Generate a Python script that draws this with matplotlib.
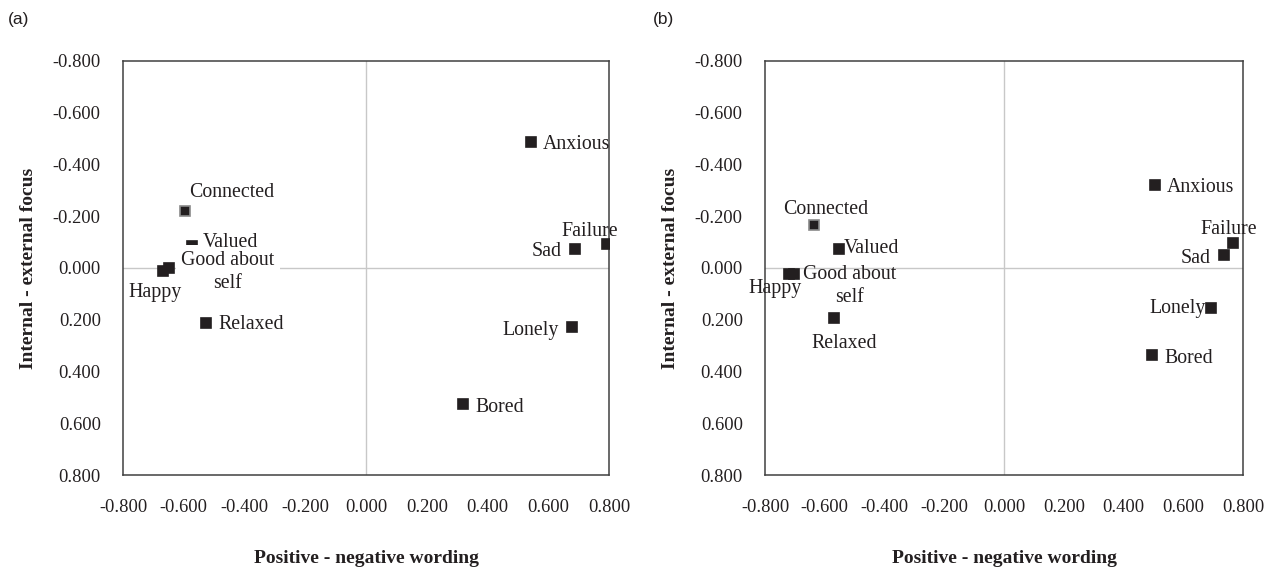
import numpy as np
import matplotlib
matplotlib.use("Agg")
import matplotlib.pyplot as plt

# emotion words, coordinates
words = ["Connected", "Valued", "Good about\nself", "Happy", "Relaxed",
         "Anxious", "Failure", "Sad", "Lonely", "Bored"]

x_a = [-0.596, -0.574, -0.649, -0.667, -0.527, 0.543, 0.793, 0.688, 0.678, 0.318]
y_a = [-0.222, -0.085, 0.000, 0.010, 0.212, -0.488, -0.093, -0.074, 0.229, 0.527]

x_b = [-0.636, -0.552, -0.703, -0.720, -0.569, 0.505, 0.766, 0.736, 0.693, 0.495]
y_b = [-0.166, -0.074, 0.023, 0.023, 0.194, -0.322, -0.098, -0.050, 0.154, 0.337]

ticks = [-0.8, -0.6, -0.4, -0.2, 0.0, 0.2, 0.4, 0.6, 0.8]

# label placement (pixel offsets from the marker, alignment)
offs_a = {
    "Connected": (4, 18, "left"),
    "Valued": (11, 4, "left"),
    "Good about\nself": (59, -4, "center"),
    "Happy": (-8, -22, "center"),
    "Relaxed": (12, -2, "left"),
    "Anxious": (12, -3, "left"),
    "Failure": (-17, 12, "center"),
    "Sad": (-13, -3, "right"),
    "Lonely": (-13, -3, "right"),
    "Bored": (13, -3, "left"),
}
offs_b = {
    "Connected": (12, 16, "center"),
    "Valued": (5, 0, "left"),
    "Good about\nself": (56, -12, "center"),
    "Happy": (-14, -15, "center"),
    "Relaxed": (10, -25, "center"),
    "Anxious": (12, -3, "left"),
    "Failure": (-4, 13, "center"),
    "Sad": (-13, -3, "right"),
    "Lonely": (-5, -1, "right"),
    "Bored": (12, -3, "left"),
}

SERIF = "Liberation Serif"
DARK = "#231f20"

fig = plt.figure(figsize=(12.67, 5.69), dpi=100)
ax_a = fig.add_axes([0.0971, 0.1652, 0.3836, 0.7276])
ax_b = fig.add_axes([0.6038, 0.1652, 0.3773, 0.7276])


def draw_panel(ax, xs, ys, offs, cover_valued):
    ax.axhline(0, color="#c8c8c8", lw=1, zorder=1)
    ax.axvline(0, color="#c8c8c8", lw=1, zorder=1)
    for name, x, y in zip(words, xs, ys):
        edge = "#8a8a8a" if name == "Connected" else DARK
        ax.plot(x, y, marker="s", ms=7.2, color=DARK, mec=edge, mew=1.2,
                ls="none", zorder=3)
        dx, dy, ha = offs[name]
        kw = {}
        z = 5
        if cover_valued and name.startswith("Good"):
            # label box hides the lower part of the Valued marker, as in the source
            kw["bbox"] = dict(facecolor="white", edgecolor="none", pad=4)
            z = 4
        ax.annotate(name, (x, y), xytext=(dx, dy), textcoords="offset pixels",
                    ha=ha, va="center", fontsize=14.3, family=SERIF,
                    color=DARK, linespacing=1.3, zorder=z, **kw)
    ax.set_xlim(-0.8, 0.8)
    ax.set_ylim(0.8, -0.8)
    ax.set_xticks(ticks)
    ax.set_yticks(ticks)
    ax.set_xticklabels([f"{t:.3f}" for t in ticks])
    ax.set_yticklabels([f"{t:.3f}" for t in ticks])
    ax.tick_params(length=0, labelsize=13.3, labelcolor=DARK)
    ax.tick_params(axis="x", pad=17)
    ax.tick_params(axis="y", pad=16)
    for lab in ax.get_xticklabels() + ax.get_yticklabels():
        lab.set_family(SERIF)
    for sp in ax.spines.values():
        sp.set_color("#404040")
        sp.set_linewidth(1.1)
    ax.set_xlabel("Positive - negative wording", fontsize=14, family=SERIF,
                  fontweight="bold", color=DARK, labelpad=25)
    ax.set_ylabel("Internal - external focus", fontsize=14, family=SERIF,
                  fontweight="bold", color=DARK, labelpad=11)


draw_panel(ax_a, x_a, y_a, offs_a, True)
draw_panel(ax_b, x_b, y_b, offs_b, False)

fig.text(0.006, 0.965, "(a)", fontsize=12.5, family="Liberation Sans",
         color=DARK, va="center")
fig.text(0.515, 0.965, "(b)", fontsize=12.5, family="Liberation Sans",
         color=DARK, va="center")

fig.savefig("out.png", dpi=100)
